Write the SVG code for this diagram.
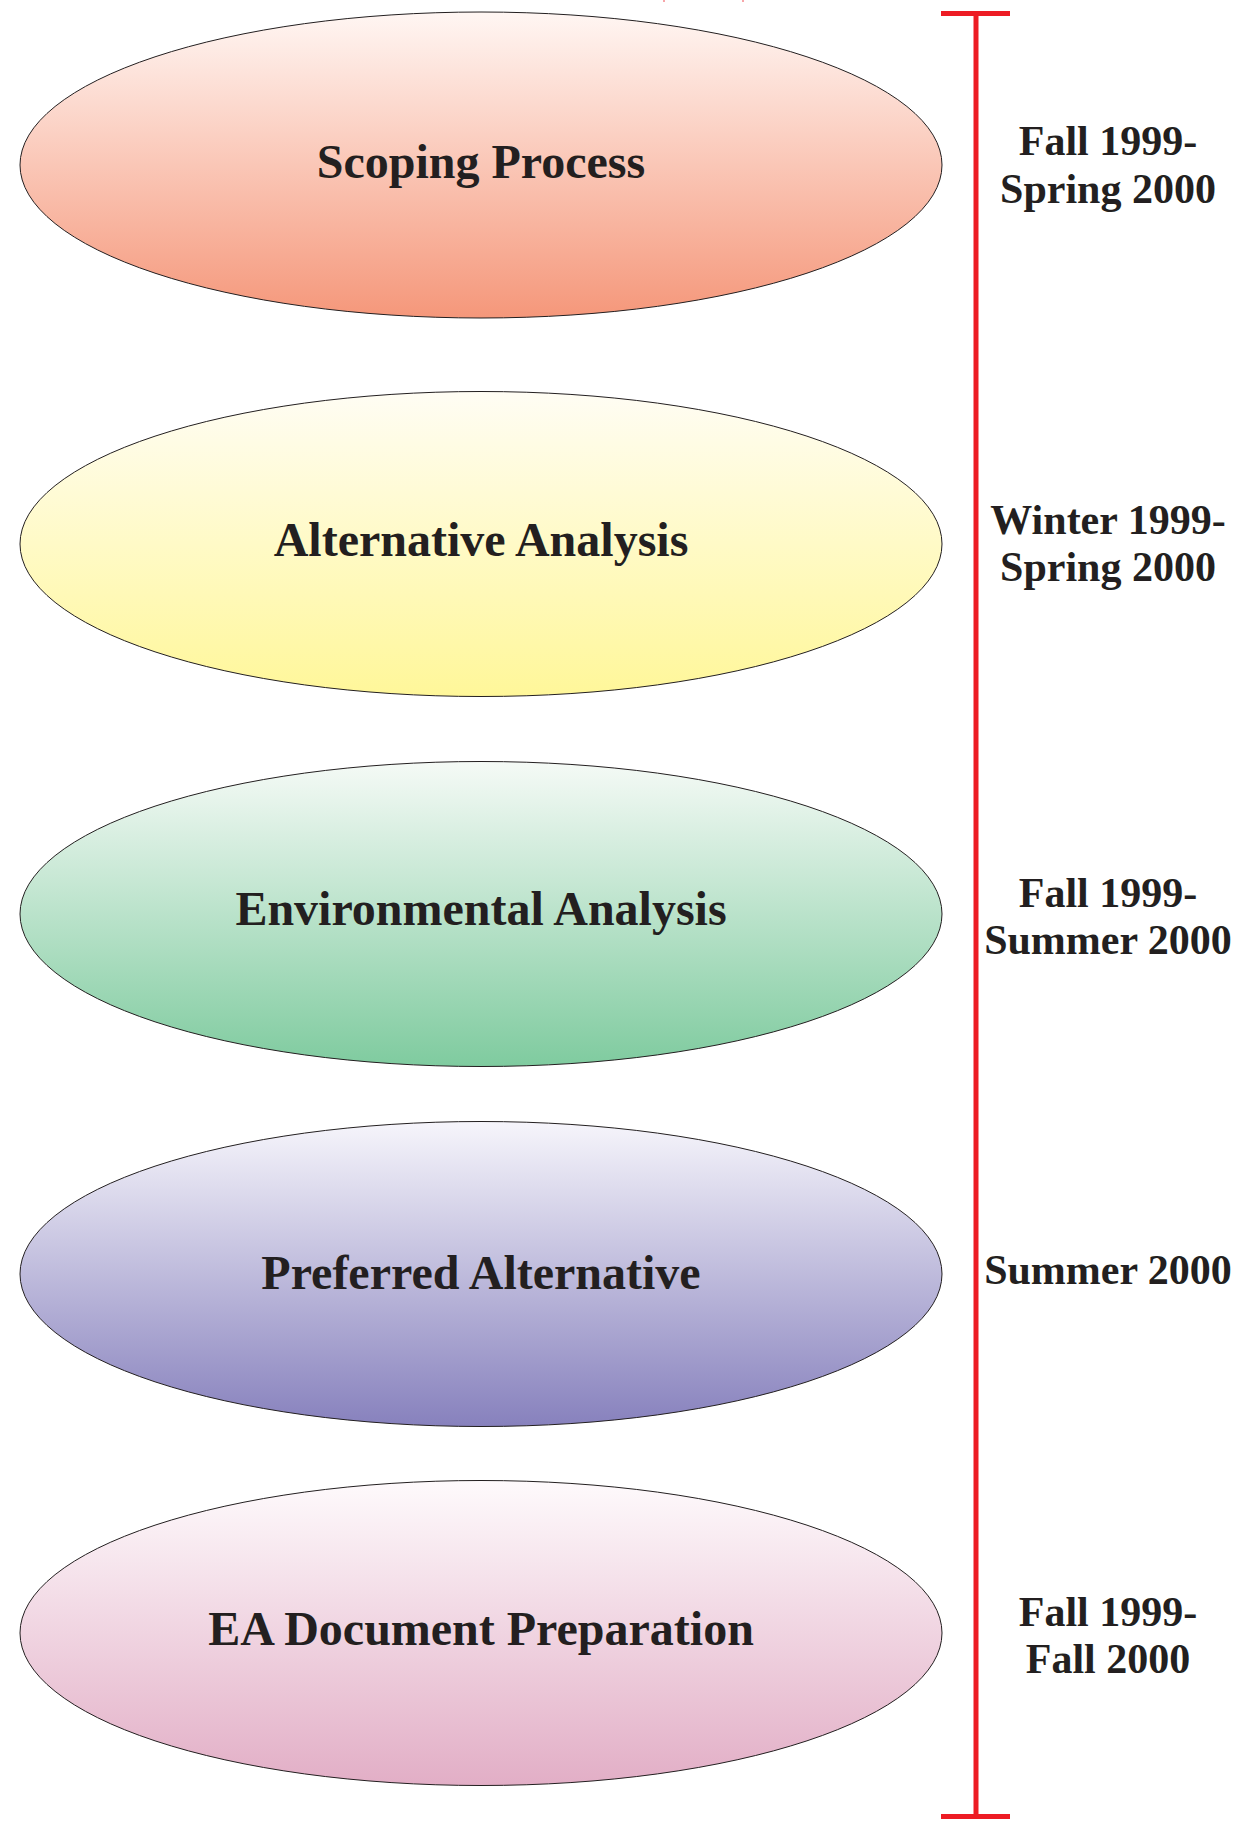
<svg xmlns="http://www.w3.org/2000/svg" width="1247" height="1822" viewBox="0 0 1247 1822">
<defs>
<linearGradient id="g1" x1="0" y1="0" x2="0" y2="1"><stop offset="0" stop-color="#fff6f3"/><stop offset="1" stop-color="#f5977a"/></linearGradient>
<linearGradient id="g2" x1="0" y1="0" x2="0" y2="1"><stop offset="0" stop-color="#fffdf4"/><stop offset="1" stop-color="#fff799"/></linearGradient>
<linearGradient id="g3" x1="0" y1="0" x2="0" y2="1"><stop offset="0" stop-color="#f5faf6"/><stop offset="1" stop-color="#7fcb9f"/></linearGradient>
<linearGradient id="g4" x1="0" y1="0" x2="0" y2="1"><stop offset="0" stop-color="#f6f5fb"/><stop offset="1" stop-color="#8781bd"/></linearGradient>
<linearGradient id="g5" x1="0" y1="0" x2="0" y2="1"><stop offset="0" stop-color="#fefafc"/><stop offset="1" stop-color="#e2aec6"/></linearGradient>
</defs>
<style>
.el{stroke:#231f20;stroke-width:1}
.t{font-family:"Liberation Serif","Times New Roman",serif;font-weight:bold;font-size:48px;fill:#231f20;text-anchor:middle}
.d{font-family:"Liberation Serif","Times New Roman",serif;font-weight:bold;font-size:42px;fill:#231f20;text-anchor:middle}
.r{stroke:#ed1c24;stroke-width:5;fill:none}
</style>
<rect width="1247" height="1822" fill="#ffffff"/>
<rect x="663" y="0" width="2" height="2" fill="#f7a6a9"/>
<rect x="742" y="0" width="2" height="2" fill="#f7a6a9"/>
<g id="connectors">
<line class="r" x1="941" y1="13.5" x2="1010" y2="13.5"/>
<line class="r" x1="976" y1="13.5" x2="976" y2="1816.5"/>
<line class="r" x1="941" y1="1816.5" x2="1010" y2="1816.5"/>
</g>
<g id="node-scoping">
<ellipse class="el" cx="481" cy="165" rx="461" ry="153" fill="url(#g1)"/>
<text class="t" x="481" y="178">Scoping Process</text>
</g>
<g id="node-alternative">
<ellipse class="el" cx="481" cy="544" rx="461" ry="152.5" fill="url(#g2)"/>
<text class="t" x="481" y="556">Alternative Analysis</text>
</g>
<g id="node-environmental">
<ellipse class="el" cx="481" cy="914" rx="461" ry="152.5" fill="url(#g3)"/>
<text class="t" x="481" y="925">Environmental Analysis</text>
</g>
<g id="node-preferred">
<ellipse class="el" cx="481" cy="1274" rx="461" ry="152.5" fill="url(#g4)"/>
<text class="t" x="481" y="1289">Preferred Alternative</text>
</g>
<g id="node-ea">
<ellipse class="el" cx="481" cy="1633" rx="461" ry="152.5" fill="url(#g5)"/>
<text class="t" x="481" y="1645">EA Document Preparation</text>
</g>
<g id="dates">
<text class="d" x="1108" y="155">Fall 1999-</text>
<text class="d" x="1108" y="203">Spring 2000</text>
<text class="d" x="1108" y="534">Winter 1999-</text>
<text class="d" x="1108" y="581">Spring 2000</text>
<text class="d" x="1108" y="907">Fall 1999-</text>
<text class="d" x="1108" y="954">Summer 2000</text>
<text class="d" x="1108" y="1284">Summer 2000</text>
<text class="d" x="1108" y="1626">Fall 1999-</text>
<text class="d" x="1108" y="1673">Fall 2000</text>
</g>
</svg>
